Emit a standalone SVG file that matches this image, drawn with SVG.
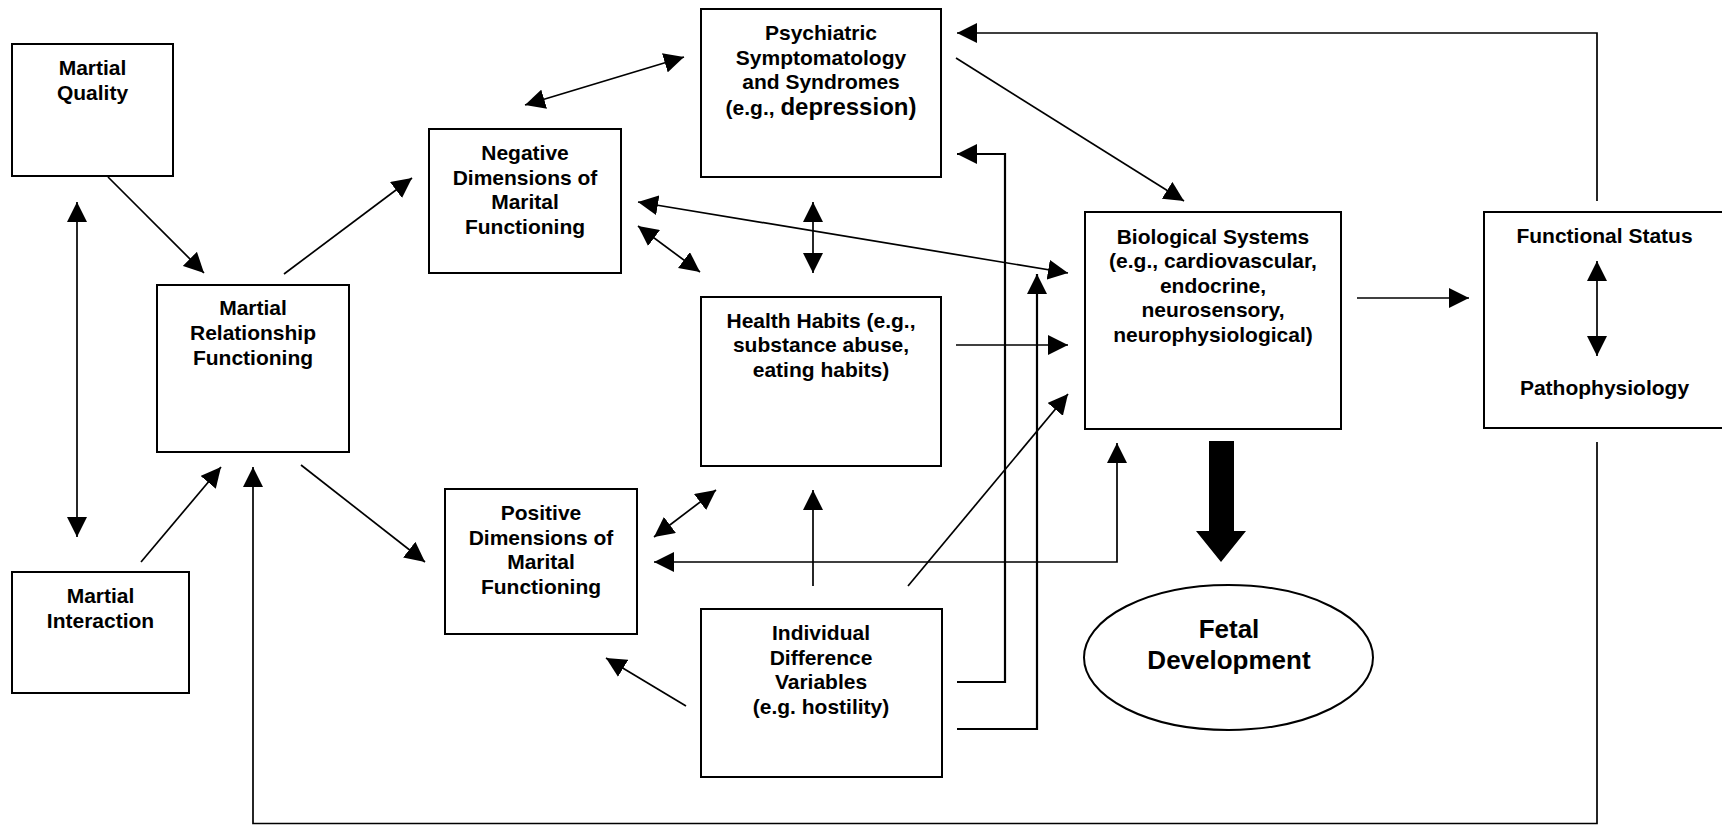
<svg xmlns="http://www.w3.org/2000/svg" width="1722" height="825" viewBox="0 0 1722 825">
<style>
.box{fill:#fff;stroke:#000;stroke-width:2}
.t{font-family:"Liberation Sans",Arial,Helvetica,sans-serif;font-weight:bold;font-size:21px;text-anchor:middle;fill:#000}
.big{font-size:26px}
.c{fill:none;stroke:#000;stroke-width:1.7}
.e{marker-end:url(#ah)}
.b{marker-start:url(#ah);marker-end:url(#ah)}
</style>
<defs>
<marker id="ah" markerUnits="userSpaceOnUse" markerWidth="20" markerHeight="20" refX="20" refY="10" orient="auto-start-reverse" viewBox="0 0 20 20">
<path d="M0,0 L20,10 L0,20 Z" fill="#000"/>
</marker>
</defs>
<rect width="1722" height="825" fill="#fff"/>
<g id="martial-quality">
<rect class="box" x="12" y="44" width="161" height="132"/>
<text class="t" x="92.5" y="75">Martial</text>
<text class="t" x="92.5" y="100">Quality</text>
</g>
<g id="martial-relationship">
<rect class="box" x="157" y="285" width="192" height="167"/>
<text class="t" x="253" y="315">Martial</text>
<text class="t" x="253" y="340">Relationship</text>
<text class="t" x="253" y="365">Functioning</text>
</g>
<g id="martial-interaction">
<rect class="box" x="12" y="572" width="177" height="121"/>
<text class="t" x="100.5" y="603">Martial</text>
<text class="t" x="100.5" y="628">Interaction</text>
</g>
<g id="negative-dimensions">
<rect class="box" x="429" y="129" width="192" height="144"/>
<text class="t" x="525" y="160">Negative</text>
<text class="t" x="525" y="184.5">Dimensions of</text>
<text class="t" x="525" y="209">Marital</text>
<text class="t" x="525" y="233.5">Functioning</text>
</g>
<g id="positive-dimensions">
<rect class="box" x="445" y="489" width="192" height="145"/>
<text class="t" x="541" y="520">Positive</text>
<text class="t" x="541" y="544.5">Dimensions of</text>
<text class="t" x="541" y="569">Marital</text>
<text class="t" x="541" y="593.5">Functioning</text>
</g>
<g id="psychiatric">
<rect class="box" x="701" y="9" width="240" height="168"/>
<text class="t" x="821" y="40">Psychiatric</text>
<text class="t" x="821" y="64.5">Symptomatology</text>
<text class="t" x="821" y="89">and Syndromes</text>
<text class="t" x="821" y="115">(e.g., <tspan style="font-size:24px">depression)</tspan></text>
</g>
<g id="health-habits">
<rect class="box" x="701" y="297" width="240" height="169"/>
<text class="t" x="821" y="328">Health Habits (e.g.,</text>
<text class="t" x="821" y="352">substance abuse,</text>
<text class="t" x="821" y="377">eating habits)</text>
</g>
<g id="individual-difference">
<rect class="box" x="701" y="609" width="241" height="168"/>
<text class="t" x="821" y="640">Individual</text>
<text class="t" x="821" y="664.5">Difference</text>
<text class="t" x="821" y="689">Variables</text>
<text class="t" x="821" y="714">(e.g. hostility)</text>
</g>
<g id="biological-systems">
<rect class="box" x="1085" y="212" width="256" height="217"/>
<text class="t" x="1213" y="243.5">Biological Systems</text>
<text class="t" x="1213" y="268">(e.g., cardiovascular,</text>
<text class="t" x="1213" y="292.5">endocrine,</text>
<text class="t" x="1213" y="317">neurosensory,</text>
<text class="t" x="1213" y="341.5">neurophysiological)</text>
</g>
<g id="functional-status">
<rect class="box" x="1484" y="212" width="245" height="216"/>
<text class="t" x="1604.5" y="243">Functional Status</text>
<text class="t" x="1604.5" y="394.5">Pathophysiology</text>
</g>
<g id="fetal-development">
<ellipse cx="1228.5" cy="657.5" rx="144.5" ry="72.5" fill="#fff" stroke="#000" stroke-width="2"/>
<text class="t big" x="1229" y="638">Fetal</text>
<text class="t big" x="1229" y="669">Development</text>
</g>
<g id="connectors">
<line class="c e" x1="108" y1="177" x2="204" y2="273"/>
<line class="c b" x1="77" y1="202" x2="77" y2="537"/>
<line class="c e" x1="141" y1="562" x2="221" y2="467"/>
<line class="c e" x1="284" y1="274" x2="412" y2="178"/>
<line class="c e" x1="301" y1="465" x2="425" y2="562"/>
<path class="c e" d="M1597,442 V823.5 H253 V467"/>
<path class="c e" d="M1597,201 V33 H957"/>
<line class="c b" x1="525" y1="105" x2="684" y2="57"/>
<line class="c e" x1="956" y1="58" x2="1184" y2="201"/>
<line class="c b" x1="638" y1="202" x2="1068" y2="273"/>
<line class="c b" x1="638" y1="226" x2="700" y2="272"/>
<line class="c b" x1="813" y1="202" x2="813" y2="273"/>
<line class="c e" x1="956" y1="345" x2="1068" y2="345"/>
<line class="c e" x1="1357" y1="298" x2="1469" y2="298"/>
<line class="c b" x1="1597" y1="261" x2="1597" y2="356"/>
<line class="c b" x1="654" y1="537" x2="716" y2="490"/>
<line class="c e" x1="813" y1="586" x2="813" y2="490"/>
<path class="c b" d="M654,562 H1117 V443"/>
<line class="c e" x1="908" y1="586" x2="1068" y2="394"/>
<line class="c e" x1="686" y1="706" x2="606" y2="658"/>
<path class="c e" d="M957,682 H1005 V154 H957" style="stroke-width:2.2"/>
<path class="c e" d="M957,729 H1037 V274" style="stroke-width:2.2"/>
<polygon points="1209,441 1234,441 1234,531 1246,531 1221,562 1196,531 1209,531" fill="#000"/>
</g>
</svg>
